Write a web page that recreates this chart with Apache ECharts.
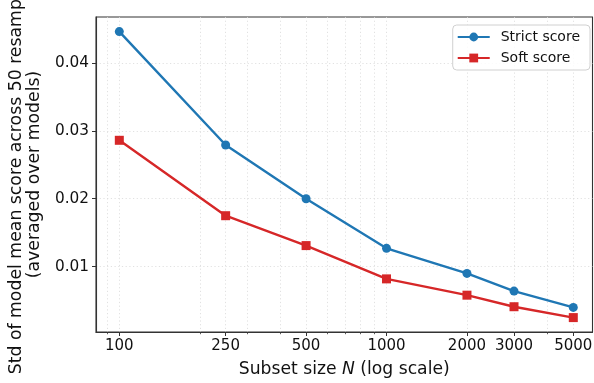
<!DOCTYPE html>
<html>
<head>
<meta charset="utf-8">
<script src="https://cdn.jsdelivr.net/npm/echarts@6/dist/echarts.min.js"></script>
<style>html,body{margin:0;padding:0;background:#fff}#c{width:594px;height:383px}</style>
</head>
<body>
<div id="c"></div>
<script>
const sizes = [100, 250, 500, 1000, 2000, 3000, 5000];
const strictScore = [0.0446, 0.0279, 0.0200, 0.0127, 0.0090, 0.0064, 0.0040];
const softScore = [0.0286, 0.0175, 0.0131, 0.0082, 0.0058, 0.0041, 0.0025];
const xMajorTicks = [100, 250, 500, 1000, 2000, 3000, 5000];
const xMinorTicks = [90, 200, 300, 400, 600, 700, 800, 900, 4000];
const yTicks = [0.01, 0.02, 0.03, 0.04];

const font = 'DejaVu Sans';
const gridLine = { show: true, lineStyle: { color: '#d9d9d9', type: [1.2, 2.5], width: 0.8 } };
const chart = echarts.init(document.getElementById('c'));
chart.setOption({
  animation: false,
  grid: { left: 96, right: 1.5, top: 17, bottom: 51, containLabel: false, outerBoundsMode: 'none', show: true, borderColor: '#333', borderWidth: 1.1, backgroundColor: 'transparent' },
  xAxis: [{
    type: 'log', logBase: 10, min: 81.8, max: 5900,
    name: 'Subset size {i|N} (log scale)', nameLocation: 'middle', nameGap: 29,
    nameTextStyle: { fontFamily: font, fontSize: 17.2, color: '#111', rich: { i: { fontFamily: font, fontSize: 17.2, fontStyle: 'italic', color: '#111' } } },
    axisLine: { show: true, onZero: false, lineStyle: { color: '#333', width: 1.1 } },
    axisTick: { show: true, inside: false, length: 4, customValues: xMajorTicks, lineStyle: { color: '#333', width: 1 } },
    axisLabel: { customValues: xMajorTicks, fontFamily: font, fontSize: 15, color: '#111', margin: 7, formatter: v => String(Math.round(v)) },
    splitLine: gridLine, minorTick: { show: false }, minorSplitLine: { show: false }
  }, {
    type: 'log', logBase: 10, min: 81.8, max: 5900, position: 'bottom',
    axisLine: { show: false },
    axisTick: { show: true, inside: false, length: 2.2, customValues: xMinorTicks, lineStyle: { color: '#333', width: 0.8 } },
    axisLabel: { show: false, customValues: xMinorTicks },
    splitLine: gridLine
  }],
  yAxis: {
    type: 'value', min: 0.00038, max: 0.04675,
    name: 'Std of model mean score across 50 resamples\n(averaged over models)',
    nameLocation: 'middle', nameRotate: 90, nameGap: 50,
    nameTextStyle: { fontFamily: font, fontSize: 17.3, color: '#111', lineHeight: 18.5, align: 'center' },
    axisLine: { show: true, onZero: false, lineStyle: { color: '#333', width: 1.1 } },
    axisTick: { show: true, inside: false, length: 4, customValues: yTicks, lineStyle: { color: '#333', width: 1 } },
    axisLabel: { customValues: yTicks, fontFamily: font, fontSize: 15.3, color: '#111', margin: 7, formatter: v => v.toFixed(2) },
    splitLine: gridLine
  },
  legend: {
    orient: 'vertical', right: 4, top: 25,
    itemWidth: 32, itemHeight: 11, itemGap: 7,
    padding: [5, 10, 5, 4],
    borderColor: '#d0d0d0', borderWidth: 1, borderRadius: 4, backgroundColor: 'rgba(255,255,255,0.85)',
    textStyle: { fontFamily: font, fontSize: 14, color: '#111', padding: [0, 0, 0, 6] },
    data: ['Strict score', 'Soft score']
  },
  series: [{
    name: 'Strict score', type: 'line',
    data: sizes.map((s, i) => [s, strictScore[i]]),
    symbol: 'circle', symbolSize: 9,
    lineStyle: { color: '#1f77b4', width: 2.4 },
    itemStyle: { color: '#1f77b4' }
  }, {
    name: 'Soft score', type: 'line',
    data: sizes.map((s, i) => [s, softScore[i]]),
    symbol: 'rect', symbolSize: 9,
    lineStyle: { color: '#d62728', width: 2.4 },
    itemStyle: { color: '#d62728' }
  }]
});
</script>
</body>
</html>
